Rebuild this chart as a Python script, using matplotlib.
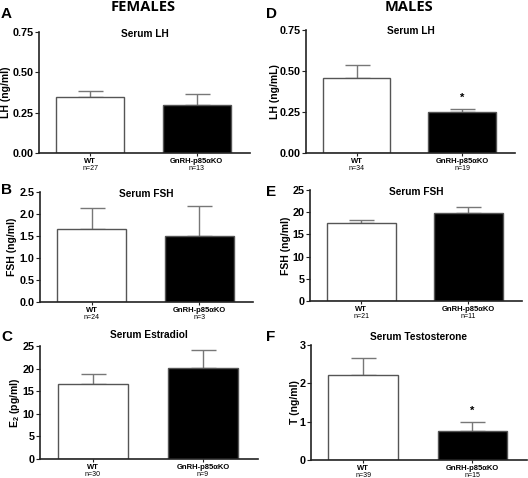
import matplotlib
matplotlib.use("Agg")
import matplotlib.pyplot as plt
import matplotlib.transforms as mtransforms

plt.rcParams['font.family'] = ['Liberation Sans', 'DejaVu Sans']
plt.rcParams['font.weight'] = 'bold'
plt.rcParams['mathtext.fontset'] = 'custom'
plt.rcParams['mathtext.rm'] = 'Liberation Sans:bold'
plt.rcParams['mathtext.bf'] = 'Liberation Sans:bold'

groups = ['WT', 'GnRH-p85\u03b1KO']

# panel A: female LH
lh_f = [0.35, 0.30]
lh_f_err = [0.035, 0.065]
lh_f_n = [27, 13]
# panel B: female FSH
fsh_f = [1.65, 1.49]
fsh_f_err = [0.49, 0.70]
fsh_f_n = [24, 3]
# panel C: female estradiol
e2_f = [16.6, 20.2]
e2_f_err = [2.3, 4.0]
e2_f_n = [30, 9]
# panel D: male LH
lh_m = [0.46, 0.25]
lh_m_err = [0.075, 0.02]
lh_m_n = [34, 19]
# panel E: male FSH
fsh_m = [17.6, 19.9]
fsh_m_err = [0.7, 1.3]
fsh_m_n = [21, 11]
# panel F: male testosterone
t_m = [2.23, 0.76]
t_m_err = [0.42, 0.24]
t_m_n = [39, 15]

fig = plt.figure(figsize=(5.28, 4.78), dpi=100)
W, H = 528, 478


def make_axes(l, r, t, b):
    return fig.add_axes([l / W, 1 - b / H, (r - l) / W, (b - t) / H])


def panel(ax, vals, errs, ns, title, ylabel, yticks, ticklabels, title_y, label_px, stars=()):
    x = [0, 1]
    ax.bar(x, vals, width=0.64, color=['white', 'black'], edgecolor='#555555', linewidth=1.0, zorder=2)
    ax.errorbar(x, vals, yerr=[[0, 0], errs], fmt='none', ecolor='#777777',
                elinewidth=1.0, capsize=9, capthick=1.0, zorder=1)
    ax.set_xlim(-0.48, 1.50)
    ax.set_ylim(yticks[0], yticks[-1])
    ax.set_yticks(yticks)
    ax.set_yticklabels(ticklabels, fontsize=7.8, fontweight='bold')
    ax.set_xticks(x)
    ax.set_xticklabels(groups, fontsize=5.5, fontweight='bold')
    ax.tick_params(axis='x', length=2.5, width=0.8, pad=1.2, colors='#222222')
    ax.tick_params(axis='y', length=3, width=0.8, pad=1, colors='#222222')
    for lab in ax.get_xticklabels() + ax.get_yticklabels():
        lab.set_color('black')
    for side in ['top', 'right']:
        ax.spines[side].set_visible(False)
    for side in ['left', 'bottom']:
        ax.spines[side].set_linewidth(1.2)
        ax.spines[side].set_color('#222222')
    ax.set_ylabel(ylabel, fontsize=7.5, fontweight='bold', va='center')
    pos = ax.get_position()
    ax.yaxis.set_label_coords((label_px / W - pos.x0) / pos.width, 0.5)
    ax.text(0.5, title_y, title, transform=ax.transAxes, ha='center', va='center',
            fontsize=7.3, fontweight='bold')
    trans = mtransforms.blended_transform_factory(ax.transData, ax.transAxes)
    for xi, n in zip(x, ns):
        ax.annotate('n=%d' % n, xy=(xi, 0), xycoords=trans, xytext=(0, -11),
                    textcoords='offset points', ha='center', va='center',
                    fontsize=5, fontweight='normal')
    for i in stars:
        ax.annotate('*', xy=(x[i], vals[i] + errs[i]), xytext=(0, 4),
                    textcoords='offset points', ha='center', va='bottom',
                    fontsize=8, fontweight='bold')


axA = make_axes(39, 250, 32, 153)
panel(axA, lh_f, lh_f_err, lh_f_n, 'Serum LH', 'LH (ng/ml)',
      [0, 0.25, 0.5, 0.75], ['0.00', '0.25', '0.50', '0.75'], 0.98, 6)
axD = make_axes(306, 515, 30, 153)
panel(axD, lh_m, lh_m_err, lh_m_n, 'Serum LH', 'LH (ng/mL)',
      [0, 0.25, 0.5, 0.75], ['0.00', '0.25', '0.50', '0.75'], 0.99, 275, stars=[1])
axB = make_axes(40, 253, 192, 302)
panel(axB, fsh_f, fsh_f_err, fsh_f_n, 'Serum FSH', 'FSH (ng/ml)',
      [0, 0.5, 1.0, 1.5, 2.0, 2.5], ['0.0', '0.5', '1.0', '1.5', '2.0', '2.5'], 0.985, 12)
axE = make_axes(310, 522, 190, 301)
panel(axE, fsh_m, fsh_m_err, fsh_m_n, 'Serum FSH', 'FSH (ng/ml)',
      [0, 5, 10, 15, 20, 25], ['0', '5', '10', '15', '20', '25'], 0.985, 286)
axC = make_axes(40, 258, 346, 459)
panel(axC, e2_f, e2_f_err, e2_f_n, 'Serum Estradiol', r'E$_{\mathbf{2}}$ (pg/ml)',
      [0, 5, 10, 15, 20, 25], ['0', '5', '10', '15', '20', '25'], 1.10, 15)
axF = make_axes(311, 527, 345, 460)
panel(axF, t_m, t_m_err, t_m_n, 'Serum Testosterone', 'T (ng/ml)',
      [0, 1, 2, 3], ['0', '1', '2', '3'], 1.07, 295, stars=[1])

for letter, px, py in [('A', 1, 14), ('D', 266, 14), ('B', 1, 190),
                       ('E', 266, 192), ('C', 1, 337), ('F', 266, 337)]:
    fig.text(px / W, 1 - py / H, letter, ha='left', va='center',
             fontsize=11, fontweight='bold')

fig.text(143 / W, 1 - 7 / H, 'FEMALES', ha='center', va='center',
         fontsize=10.5, fontweight='bold', family=['Open Sans', 'DejaVu Sans'])
fig.text(409 / W, 1 - 7 / H, 'MALES', ha='center', va='center',
         fontsize=10.5, fontweight='bold', family=['Open Sans', 'DejaVu Sans'])

fig.savefig('out.png', dpi=100)
